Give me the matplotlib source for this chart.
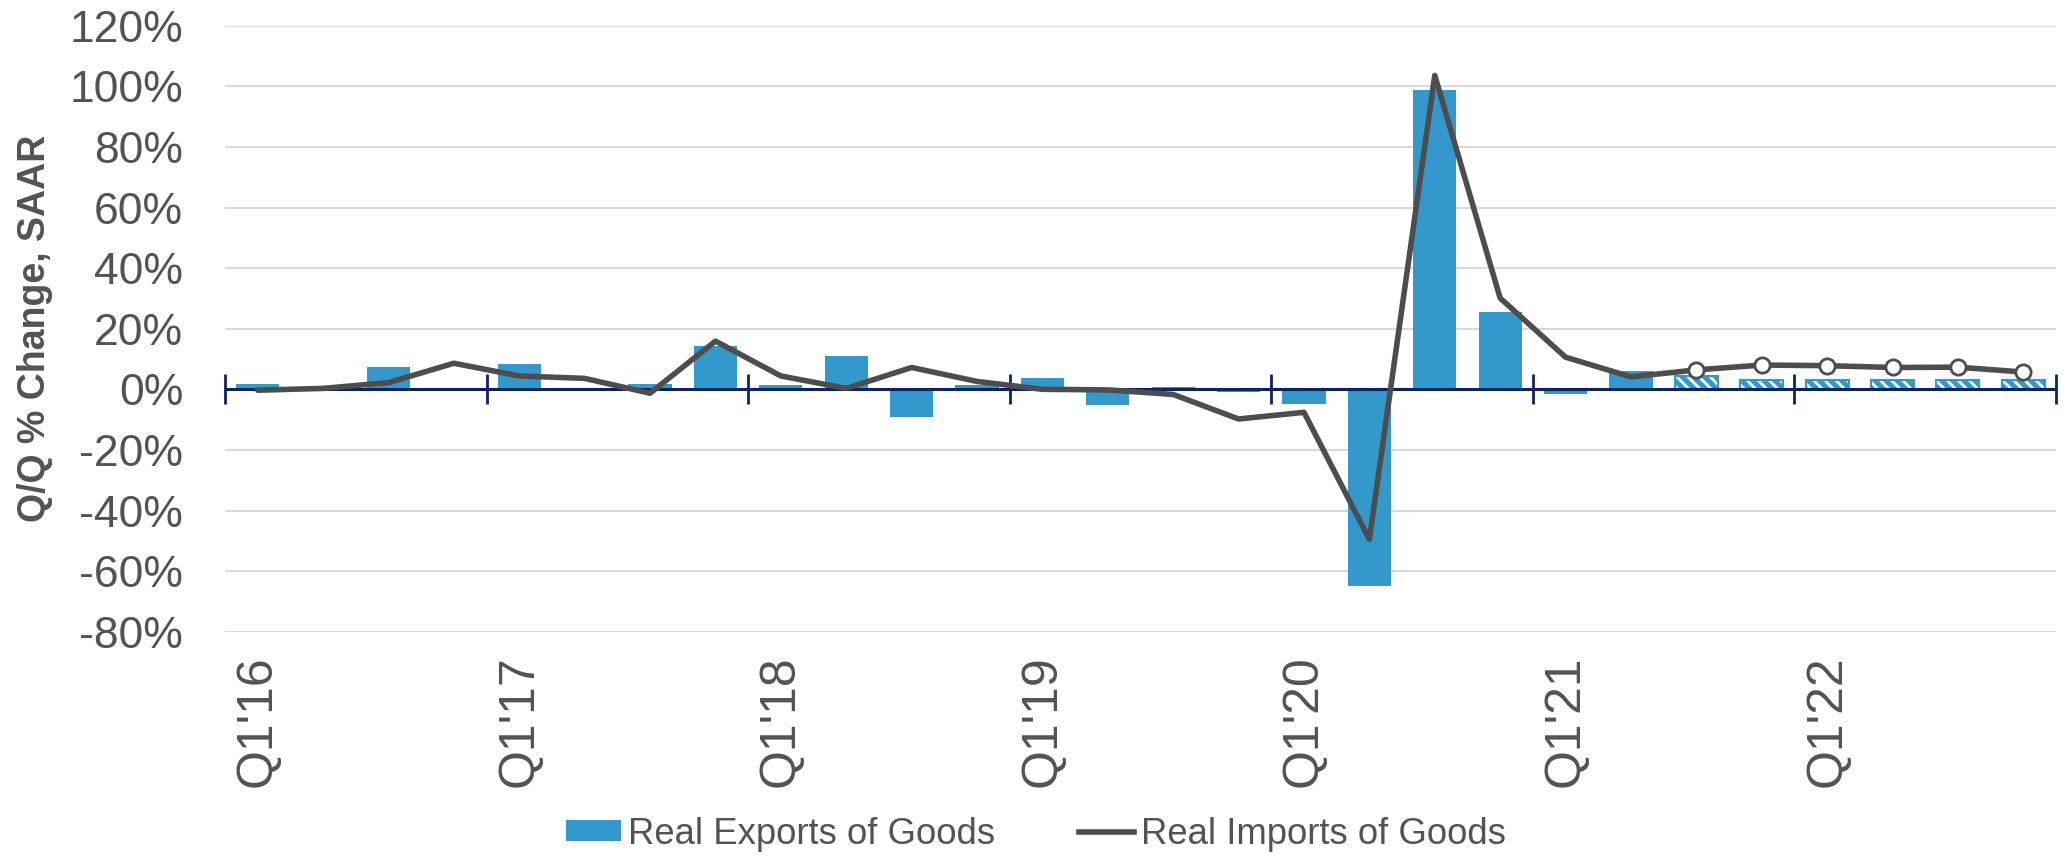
import matplotlib
matplotlib.use("Agg")
import matplotlib.pyplot as plt
from matplotlib.patches import Patch
from matplotlib.lines import Line2D
import numpy as np

plt.rcParams['font.family'] = ['Liberation Sans', 'DejaVu Sans']

quarters = [f"Q{q}'{y}" for y in range(16, 23) for q in range(1, 5)]
exports = [1.9, 0.5, 7.2, 0.3, 8.2, 0.5, 1.9, 14.4, 1.3, 11.1, -9.1, 1.4,
           3.8, -5.3, 0.8, -0.9, -5.0, -64.8, 98.8, 25.4, -1.7, 5.9,
           4.4, 3.1, 3.1, 3.1, 3.1, 3.1]
imports = [-0.3, 0.3, 2.2, 8.6, 4.4, 3.6, -1.3, 15.9, 4.4, 0.3, 7.2, 2.6,
           0.0, -0.2, -1.7, -9.8, -7.6, -49.5, 103.6, 30.1, 10.6, 4.1,
           6.4, 8.0, 7.8, 7.2, 7.3, 5.7]
first_forecast = 22  # Q3'21 onward is forecast
yticks = list(range(-80, 121, 20))

BLUE = '#3399CC'
GRAY = '#4D4D4D'
NAVY = '#0A2463'
TXT = '#535353'

fig = plt.figure(figsize=(20.69, 8.56), dpi=100)
ax = fig.add_axes([225/2069, 1-631.7/856, (2056-225)/2069, (631.7-25.7)/856])

x = np.arange(len(quarters))
hist = x < first_forecast
fc = ~hist
w = 0.66
ax.bar(x[hist], np.array(exports)[hist], width=w, color=BLUE, zorder=2)
plt.rcParams['hatch.linewidth'] = 2.0
ax.bar(x[fc], np.array(exports)[fc], width=w, color=BLUE, edgecolor='white',
       hatch='\\\\\\', linewidth=0, zorder=2)
ax.bar(x[fc], np.array(exports)[fc], width=w, fill=False, edgecolor=BLUE,
       linewidth=1.5, zorder=2.1)

# zero axis line and year boundary ticks
ax.axhline(0, color=NAVY, lw=2.2, zorder=3)
bounds = np.arange(0, len(quarters) + 1, 4) - 0.5
ax.plot(bounds, np.zeros_like(bounds), linestyle='none', marker='|',
        markersize=21, mew=2.0, color=NAVY, zorder=3, clip_on=False)

ax.plot(x, imports, color=GRAY, lw=4.0, zorder=4, solid_joinstyle='round',
        solid_capstyle='round')
ax.plot(x[fc], np.array(imports)[fc], linestyle='none', marker='o',
        markersize=11, markerfacecolor='white', markeredgecolor=GRAY,
        mew=2, zorder=5)

ax.set_xlim(-0.5, len(quarters) - 0.5)
ax.set_ylim(-80, 120)
ax.set_yticks(yticks)
ax.set_yticklabels([f"{v}%" for v in yticks])
ax.yaxis.grid(True, color='#D9D9D9', lw=1.5, zorder=0)
ax.set_axisbelow(True)
for s in ax.spines.values():
    s.set_visible(False)
ax.tick_params(axis='y', length=0, pad=30, labelsize=32, labelcolor=TXT)
ax.set_xticks(x[::4])
ax.set_xticklabels(quarters[::4], rotation=90)
ax.tick_params(axis='x', length=0, pad=17, labelsize=36, labelcolor=TXT)
ax.set_ylabel("Q/Q % Change, SAAR", fontsize=27, fontweight='bold',
              color=TXT, labelpad=12)

handles = [Patch(facecolor=BLUE, edgecolor='none'),
           Line2D([0], [0], color=GRAY, lw=4.0)]
fig.legend(handles, ["Real Exports of Goods", "Real Imports of Goods"],
           loc='center', bbox_to_anchor=(1036/2069, 1-834/856), ncol=2,
           frameon=False, fontsize=26.3, handlelength=1.5, handleheight=0.5,
           handletextpad=0.2, columnspacing=2.3, labelcolor=TXT)

fig.savefig("out.png", dpi=100)
